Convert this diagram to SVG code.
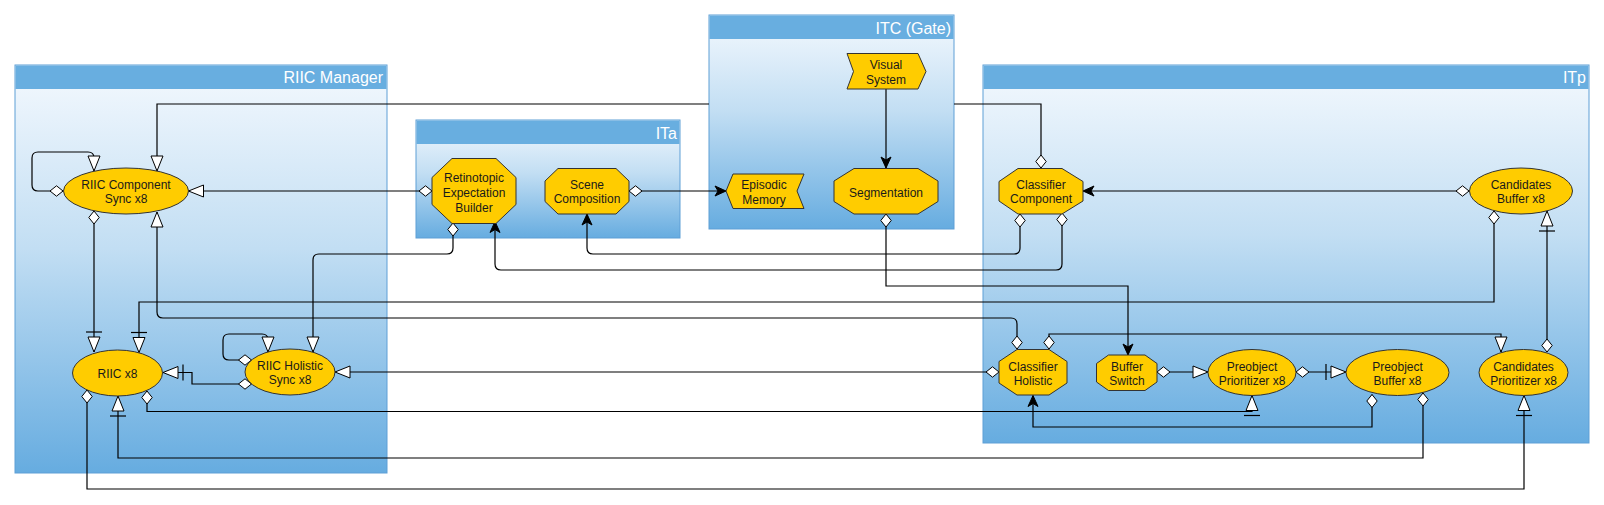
<svg xmlns="http://www.w3.org/2000/svg" width="1604" height="505" viewBox="0 0 1604 505">
<style>
.box{fill:url(#bg);stroke:#5f9fd6;stroke-width:1}
.hdr{fill:#68aee0}
.title{font-family:"Liberation Sans",Arial,sans-serif;font-size:16px;fill:#ffffff;text-anchor:end}
.node{fill:#ffcc00;stroke:#333333;stroke-width:1}
.lbl{font-family:"Liberation Sans",Arial,sans-serif;font-size:12px;fill:#1a1a1a;text-anchor:middle}
.c{fill:none;stroke:#000000;stroke-width:1.2}
.dia{marker-start:url(#diamond)}
.tri{marker-end:url(#tri)}
.bar{marker-end:url(#bartri)}
.arr{marker-end:url(#arrow)}
</style>
<defs>
<linearGradient id="bg" x1="0" y1="0" x2="0" y2="1">
<stop offset="0" stop-color="#f4f9fe"/>
<stop offset="0.45" stop-color="#c2def3"/>
<stop offset="1" stop-color="#66ace0"/>
</linearGradient>
<marker id="diamond" markerUnits="userSpaceOnUse" orient="auto" refX="0" refY="0" markerWidth="14" markerHeight="12" overflow="visible">
<path d="M0,0 L6.5,-5.2 L13,0 L6.5,5.2 Z" fill="#ffffff" stroke="#000000" stroke-width="1"/>
</marker>
<marker id="tri" markerUnits="userSpaceOnUse" orient="auto" refX="0" refY="0" markerWidth="16" markerHeight="14" overflow="visible">
<path d="M0,0 L-15,-6 L-15,6 Z" fill="#ffffff" stroke="#000000" stroke-width="1"/>
</marker>
<marker id="bartri" markerUnits="userSpaceOnUse" orient="auto" refX="0" refY="0" markerWidth="22" markerHeight="18" overflow="visible">
<path d="M0,0 L-15,-6 L-15,6 Z" fill="#ffffff" stroke="#000000" stroke-width="1"/>
<path d="M-20,-8 L-20,8" stroke="#000000" stroke-width="1.2"/>
</marker>
<marker id="arrow" markerUnits="userSpaceOnUse" orient="auto" refX="0" refY="0" markerWidth="12" markerHeight="12" overflow="visible">
<path d="M0,0 L-11,-5 L-8,0 L-11,5 Z" fill="#000000" stroke="#000000" stroke-width="1"/>
</marker>
</defs>

<g id="containers">
<g id="riic-manager">
<rect class="box" x="15" y="65" width="372" height="408"/>
<rect class="hdr" x="15.5" y="65.5" width="371" height="23.5"/>
<text class="title" x="383" y="83">RIIC Manager</text>
</g>
<g id="ita">
<rect class="box" x="416" y="120" width="264" height="118"/>
<rect class="hdr" x="416.5" y="120.5" width="263" height="23.5"/>
<text class="title" x="677" y="138.5">ITa</text>
</g>
<g id="itp">
<rect class="box" x="983" y="65" width="606" height="378"/>
<rect class="hdr" x="983.5" y="65.5" width="605" height="23.5"/>
<text class="title" x="1586" y="83">ITp</text>
</g>
<g id="itc">
<rect class="box" x="709" y="15" width="245" height="214"/>
<rect class="hdr" x="709.5" y="15.5" width="244" height="23.5"/>
<text class="title" x="951" y="33.5">ITC (Gate)</text>
</g>
</g>

<g id="connectors">
<path class="c dia tri" d="M63,191 H38 Q32,191 32,185 V158 Q32,152 38,152 H88 Q94,152 94,158 V171"/>
<path class="c dia tri" d="M1041,168 V104 H954 M709,104 H157 V171"/>
<path class="c dia tri" d="M432,191 H188.5"/>
<path class="c dia bar" d="M94,211 V352"/>
<path class="c dia tri" d="M1017,349 V324 Q1017,318 1011,318 H163 Q157,318 157,312 V212"/>
<path class="c dia bar" d="M1494,211 V302 H139 V352.5"/>
<path class="c dia bar" d="M1547,352 V211"/>
<path class="c dia tri" d="M1049,349 V334 H1501 V352"/>
<path class="c dia arr" d="M886,214 V286 H1128 V355"/>
<path class="c arr" d="M886,89 V168"/>
<path class="c dia arr" d="M629,191 H726"/>
<path class="c dia arr" d="M1020,214 V248 Q1020,254 1014,254 H593 Q587,254 587,248 V214"/>
<path class="c dia arr" d="M1062,213 V264 Q1062,270 1056,270 H501 Q495,270 495,264 V221.5"/>
<path class="c dia tri" d="M453,223 V248 Q453,254 447,254 H319 Q313,254 313,260 V352"/>
<path class="c dia tri" d="M251.5,360 H229 Q223,360 223,354 V340 Q223,334 229,334 H262 Q268,334 268,340 V352"/>
<path class="c dia bar" d="M251.5,384 H192 V372.5 H163"/>
<path class="c dia tri" d="M999,372 H335"/>
<path class="c dia bar" d="M147,391 V411.5 H1252 V395.5"/>
<path class="c dia arr" d="M1372,394.5 V427 H1033 V395.5"/>
<path class="c dia bar" d="M1423,393 V458 H118 V396"/>
<path class="c dia bar" d="M87,390 V489 H1524 V395.5"/>
<path class="c dia tri" d="M1157,372 H1208"/>
<path class="c dia bar" d="M1296,372 H1346"/>
<path class="c dia arr" d="M1469,191 H1083"/>
</g>

<g id="nodes">
<g id="riic-component-sync">
<ellipse class="node" cx="126" cy="191" rx="62.5" ry="23"/>
<text class="lbl" x="126" y="188.5">RIIC Component</text>
<text class="lbl" x="126" y="203">Sync x8</text>
</g>
<g id="riic-x8">
<ellipse class="node" cx="117.5" cy="373" rx="45" ry="23"/>
<text class="lbl" x="117.5" y="377.5">RIIC x8</text>
</g>
<g id="riic-holistic-sync">
<ellipse class="node" cx="290" cy="372" rx="45" ry="23"/>
<text class="lbl" x="290" y="369.5">RIIC Holistic</text>
<text class="lbl" x="290" y="384">Sync x8</text>
</g>
<g id="retinotopic-expectation-builder">
<polygon class="node" points="452,158.5 496,158.5 516,177.5 516,204.5 496,223.5 452,223.5 432,204.5 432,177.5"/>
<text class="lbl" x="474" y="181.5">Retinotopic</text>
<text class="lbl" x="474" y="196.5">Expectation</text>
<text class="lbl" x="474" y="211.5">Builder</text>
</g>
<g id="scene-composition">
<polygon class="node" points="558,168.5 616,168.5 629,181 629,201.5 616,214 558,214 545,201.5 545,181"/>
<text class="lbl" x="587" y="188.5">Scene</text>
<text class="lbl" x="587" y="203">Composition</text>
</g>
<g id="episodic-memory">
<polygon class="node" points="726,191 733,174 804,174 797,191 804,208.5 733,208.5"/>
<text class="lbl" x="764" y="188.5">Episodic</text>
<text class="lbl" x="764" y="203.5">Memory</text>
</g>
<g id="visual-system">
<polygon class="node" points="847,53.5 918,53.5 926,71.5 918,89 847,89 853.5,71.5"/>
<text class="lbl" x="886" y="68.5">Visual</text>
<text class="lbl" x="886" y="84">System</text>
</g>
<g id="segmentation">
<polygon class="node" points="854,168.5 918,168.5 938,181 938,201.5 918,214 854,214 834,201.5 834,181"/>
<text class="lbl" x="886" y="196.5">Segmentation</text>
</g>
<g id="classifier-component">
<polygon class="node" points="1018,168.5 1062,168.5 1083,181.5 1083,201 1062,214 1018,214 999,201 999,181.5"/>
<text class="lbl" x="1041" y="188.5">Classifier</text>
<text class="lbl" x="1041" y="203">Component</text>
</g>
<g id="candidates-buffer">
<ellipse class="node" cx="1521" cy="191" rx="51.5" ry="23"/>
<text class="lbl" x="1521" y="188.5">Candidates</text>
<text class="lbl" x="1521" y="203">Buffer x8</text>
</g>
<g id="classifier-holistic">
<polygon class="node" points="1017,349.5 1049,349.5 1067,361.5 1067,383 1049,395 1017,395 999,383 999,361.5"/>
<text class="lbl" x="1033" y="370.5">Classifier</text>
<text class="lbl" x="1033" y="385">Holistic</text>
</g>
<g id="buffer-switch">
<polygon class="node" points="1108.5,355 1145,355 1157,363.5 1157,382 1145,390.5 1108.5,390.5 1096.5,382 1096.5,363.5"/>
<text class="lbl" x="1127" y="370.5">Buffer</text>
<text class="lbl" x="1127" y="385">Switch</text>
</g>
<g id="preobject-prioritizer">
<ellipse class="node" cx="1252" cy="372.5" rx="44" ry="23"/>
<text class="lbl" x="1252" y="370.5">Preobject</text>
<text class="lbl" x="1252" y="385">Prioritizer x8</text>
</g>
<g id="preobject-buffer">
<ellipse class="node" cx="1397.5" cy="372.5" rx="51.5" ry="23"/>
<text class="lbl" x="1397.5" y="370.5">Preobject</text>
<text class="lbl" x="1397.5" y="385">Buffer x8</text>
</g>
<g id="candidates-prioritizer">
<ellipse class="node" cx="1523.5" cy="372.5" rx="44.5" ry="23"/>
<text class="lbl" x="1523.5" y="370.5">Candidates</text>
<text class="lbl" x="1523.5" y="385">Prioritizer x8</text>
</g>
</g>
</svg>
